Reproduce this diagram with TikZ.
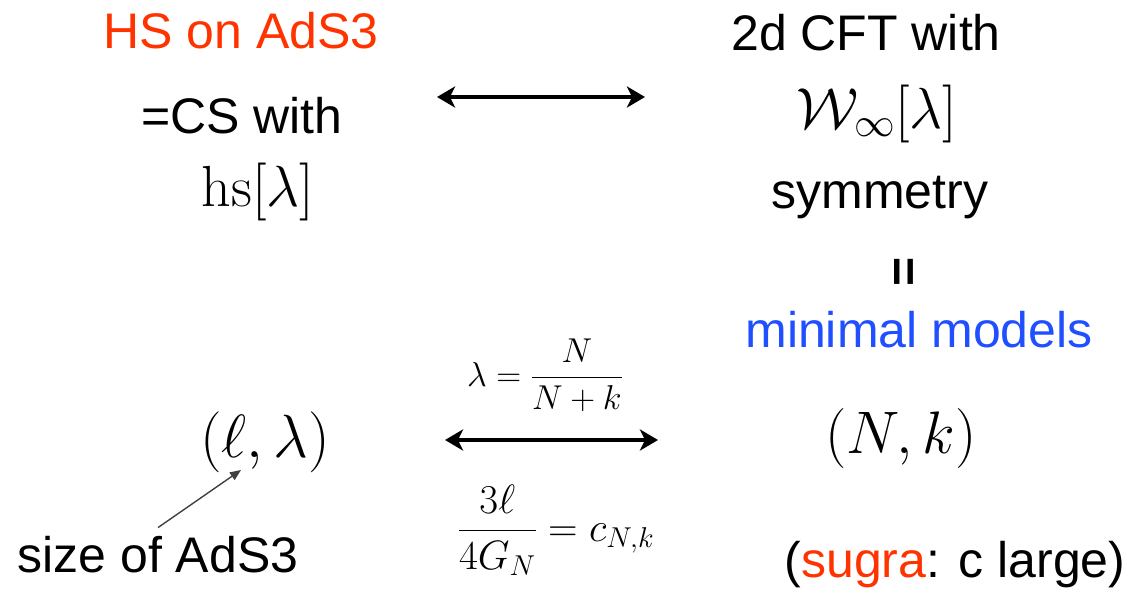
\RequirePackage{fix-cm}
\documentclass[tikz,border=0pt]{standalone}
\usepackage{amsmath}
\usepackage[no-math]{fontspec}
\setmainfont{Liberation Sans}
\usetikzlibrary{arrows.meta}
\definecolor{hsred}{HTML}{FF3300}
\definecolor{mmblue}{HTML}{1F4FFF}
\tikzset{
  txt/.style={inner sep=0pt, anchor=base, font=\fontsize{50}{60}\selectfont},
  bigmath/.style={inner sep=0pt, anchor=base, font=\fontsize{58}{70}\selectfont},
  relmath/.style={inner sep=0pt, anchor=base},
  dblarrow/.style={{Stealth[length=18pt,width=21pt,inset=5pt]}-{Stealth[length=18pt,width=21pt,inset=5pt]}, line width=3.6pt},
  pointer/.style={-{Triangle[length=11pt,width=9pt]}, line width=1.4pt, draw=black!75}
}
\begin{document}
\begin{tikzpicture}[x=1pt,y=-1pt]
\useasboundingbox (0,0) rectangle (1132,597);
% left column
\node[txt, text=hsred] (hs) at (241,48) {HS on AdS3};
\node[txt] (cs) at (242,133) {=CS with};
\node[bigmath] (hsl) at (258,206) {$\mathrm{hs}[\lambda]$};
% right column
\node[txt] (cft) at (866,50) {2d CFT with};
\node[bigmath] (winf) at (877,128) {$\mathcal{W}_\infty[\lambda]$};
\node[txt] (sym) at (880,208) {symmetry};
\node[txt, rotate=90, anchor=center, font=\fontsize{50}{60}\selectfont\bfseries] (eq) at (907,272) {=};
\node[txt, text=mmblue] (mm) at (919,347) {minimal models};
% bottom
\node[bigmath, font=\fontsize{61}{72}\selectfont] (ll) at (265,457) {$(\ell,\lambda)$};
\node[bigmath, font=\fontsize{60}{72}\selectfont] (nk) at (901,453) {$(N,k)$};
\node[relmath, font=\fontsize{34.5}{42}\selectfont] (rel1) at (545,386) {$\displaystyle\lambda=\frac{N}{N+k}$};
\node[relmath, font=\fontsize{41}{50}\selectfont] (rel2) at (556,541) {$\displaystyle\frac{3\ell}{4G_N}=c_{N,k}$};
\node[txt] (size) at (158,572) {size of AdS3};
\node[txt] (sugra) at (955,577) {(\textcolor{hsred}{sugra}: c large)};
% arrows
\coordinate (u1) at (437,97);
\coordinate (u2) at (645,97);
\coordinate (l1) at (445,440);
\coordinate (l2) at (658,440);
\coordinate (tip) at (241,470);
\draw[dblarrow] (u1) -- (u2);
\draw[dblarrow] (l1) -- (l2);
\draw[pointer] ([yshift=8pt]size.north) -- (tip);
\end{tikzpicture}
\end{document}
